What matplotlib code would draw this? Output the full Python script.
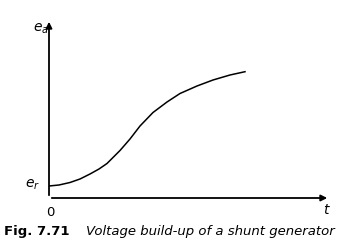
import matplotlib.pyplot as plt

# build-up curve (t in arbitrary units, e in arbitrary units)
t_vals = [0, 0.5, 1.05, 1.55, 2.05, 2.5, 2.9, 3.55, 4.05, 4.55, 5.2, 5.9, 6.55, 7.4, 8.2, 9.05, 9.8]
e_vals = [1.2, 1.3, 1.55, 1.9, 2.4, 2.9, 3.45, 4.75, 5.9, 7.2, 8.55, 9.6, 10.45, 11.2, 11.8, 12.3, 12.63]
caption_num = "Fig. 7.71"
caption_txt = "Voltage build-up of a shunt generator"

fig = plt.figure(figsize=(3.58, 2.51), dpi=100)
ax = fig.add_axes([49/358, 1-199/251, (330-49)/358, (199-20)/251])
ax.set_xlim(0, (330-49)/20)
ax.set_ylim(0, (199-20)/10)
ax.axis('off')

ax.plot(t_vals, e_vals, color='black', lw=1.1)

# axes with arrows
ax.annotate('', xy=(0, 17.9), xytext=(0, 0), xycoords='data',
            arrowprops=dict(arrowstyle='-|>', color='black', lw=1.3, mutation_scale=9),
            annotation_clip=False)
ax.annotate('', xy=(14.05, 0), xytext=(0, 0), xycoords='data',
            arrowprops=dict(arrowstyle='-|>', color='black', lw=1.3, mutation_scale=9),
            annotation_clip=False)

# labels (figure pixel coords)
def fx(px):
    return px / 358
def fy(py):
    return 1 - py / 251

fig.text(fx(41), fy(29), r'$e_a$', fontsize=10, ha='center', va='center')
fig.text(fx(33), fy(185), r'$e_r$', fontsize=10, ha='center', va='center')
fig.text(fx(50), fy(212), '0', fontsize=9.5, ha='center', va='center')
fig.text(fx(327), fy(210), r'$t$', fontsize=10, ha='center', va='center')
fig.text(fx(4), fy(232), caption_num, fontsize=9.5, fontweight='bold', ha='left', va='center')
fig.text(fx(86), fy(232), caption_txt, fontsize=9.5, style='italic', ha='left', va='center')

fig.savefig('out.png', dpi=100, facecolor='white')
